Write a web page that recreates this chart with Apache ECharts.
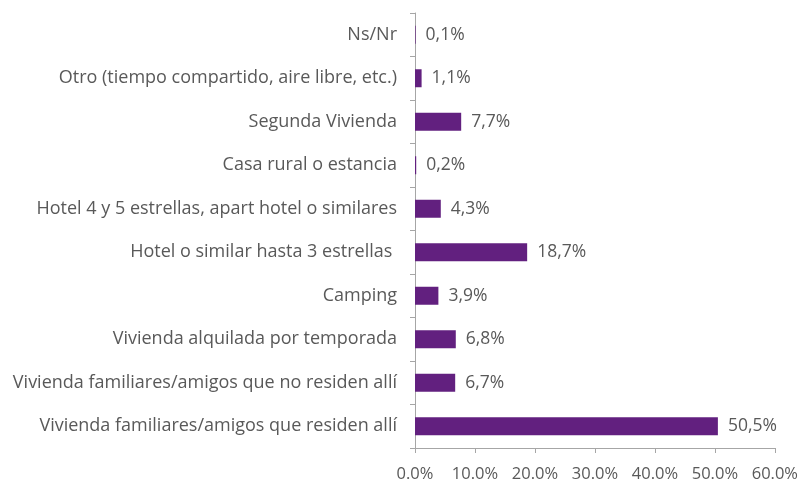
<!DOCTYPE html>
<html>
<head>
<meta charset="utf-8">
<script src="https://cdn.jsdelivr.net/npm/echarts@6/dist/echarts.min.js"></script>
<style>
  html, body { margin: 0; padding: 0; background: #fff; }
  #chart { width: 801px; height: 486px; }
</style>
</head>
<body>
<div id="chart"></div>
<script>
  // categories from top to bottom
  var categories = [
    'Ns/Nr',
    'Otro (tiempo compartido, aire libre, etc.)',
    'Segunda Vivienda',
    'Casa rural o estancia',
    'Hotel 4 y 5 estrellas, apart hotel o similares',
    'Hotel o similar hasta 3 estrellas ',
    'Camping',
    'Vivienda alquilada por temporada',
    'Vivienda familiares/amigos que no residen allí',
    'Vivienda familiares/amigos que residen allí'
  ];
  var values = [0.1, 1.1, 7.7, 0.2, 4.3, 18.7, 3.9, 6.8, 6.7, 50.5];
  var axisMax = 60;
  var axisStep = 10;

  var GREY = '#595959';
  var FONT = 'Open Sans';

  var myChart = echarts.init(document.getElementById('chart'));
  myChart.setOption({
    animation: false,
    grid: { left: 415, right: 25, top: 13, bottom: 38 },
    xAxis: {
      type: 'value', min: 0, max: axisMax, interval: axisStep,
      axisLine: { show: true, lineStyle: { color: '#a6a6a6' } },
      axisTick: { show: true, length: 5, lineStyle: { color: '#a6a6a6' } },
      splitLine: { show: false },
      axisLabel: {
        color: GREY, fontFamily: FONT, fontSize: 16.5, margin: 18,
        formatter: function (v) { return v.toFixed(1) + '%'; }
      }
    },
    yAxis: {
      type: 'category', data: categories, inverse: true,
      axisLine: { show: true, lineStyle: { color: '#a6a6a6' } },
      axisTick: { show: true, length: 5, lineStyle: { color: '#a6a6a6' } },
      axisLabel: { color: GREY, fontFamily: FONT, fontSize: 18, margin: 18 }
    },
    series: [{
      type: 'bar',
      data: values,
      barWidth: 18,
      itemStyle: { color: '#62207f' },
      label: {
        show: true, position: 'right', distance: 10,
        color: GREY, fontFamily: FONT, fontSize: 17.5,
        formatter: function (p) { return p.value.toFixed(1).replace('.', ',') + '%'; }
      }
    }]
  });
</script>
</body>
</html>
